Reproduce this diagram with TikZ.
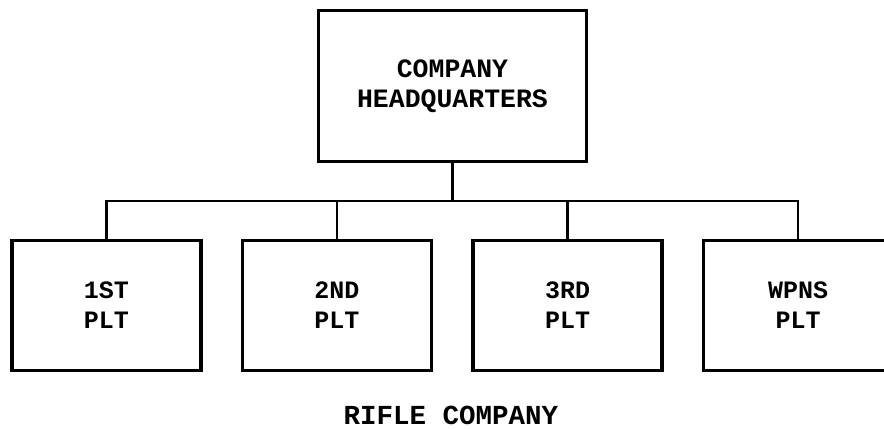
\documentclass[tikz,border=0pt]{standalone}
\usepackage{fontspec}
\setmainfont{Liberation Mono}
\begin{document}
\begin{tikzpicture}[x=1pt,y=1pt,
  orgbox/.style={draw=black, line width=3.4pt, fill=white, align=center, inner sep=0pt,
    font=\bfseries\fontsize{25}{30}\selectfont},
  conn/.style={draw=black, line width=2.8pt}]
\useasboundingbox (0,0) rectangle (884,430);
\node[orgbox, minimum width=268pt, minimum height=151pt, font=\bfseries\fontsize{26.5}{30}\selectfont] (hq) at (452.5,344) {COMPANY\\HEADQUARTERS};
\node[orgbox, minimum width=189pt, minimum height=130pt] (p1) at (106.5,124.5) {1ST\\PLT};
\node[orgbox, minimum width=189pt, minimum height=130pt] (p2) at (337,124.5) {2ND\\PLT};
\node[orgbox, minimum width=189pt, minimum height=130pt] (p3) at (567.5,124.5) {3RD\\PLT};
\node[orgbox, minimum width=189pt, minimum height=130pt] (p4) at (798,124.5) {WPNS\\PLT};
\coordinate (bus) at (0,229);
\draw[conn] (hq.south) -- (hq.south |- bus);
\draw[conn] (p1.north) -- (p1.north |- bus) -- (p4.north |- bus) -- (p4.north);
\draw[conn] (p2.north) -- (p2.north |- bus);
\draw[conn] (p3.north) -- (p3.north |- bus);
\node[font=\bfseries\fontsize{27.5}{30}\selectfont, inner sep=0pt, anchor=base] (cap) at (451,5.5) {RIFLE COMPANY};
\end{tikzpicture}
\end{document}
